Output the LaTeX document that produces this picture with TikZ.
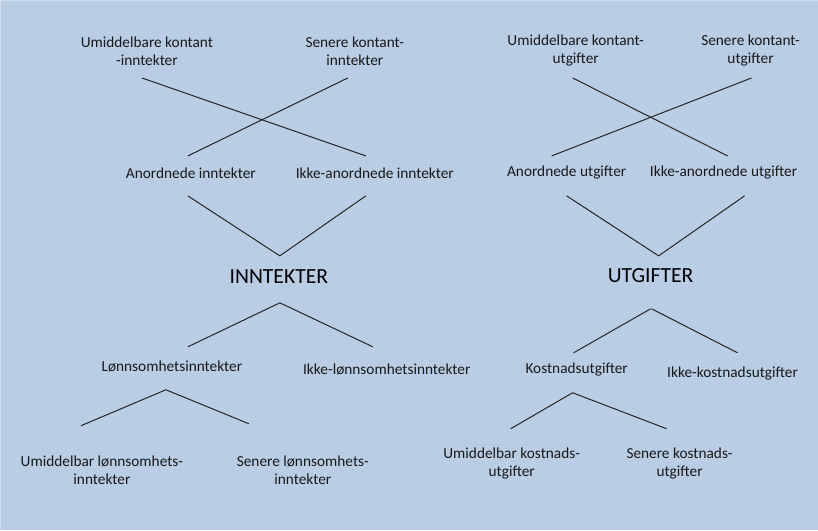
\documentclass[tikz,border=0pt]{standalone}
\usepackage{fontspec}
\setmainfont{Carlito}
\definecolor{bg}{HTML}{B9CDE5}
\definecolor{edge}{HTML}{D3DEEC}
\begin{document}
\begin{tikzpicture}[x=0.75pt,y=-0.75pt,
  lbl/.style={inner sep=0pt,align=center,font=\fontsize{11.5}{13.5}\selectfont,text=black!90},
  big/.style={inner sep=0pt,font=\fontsize{16.2}{18}\selectfont,text=black},
  ln/.style={line width=0.75pt,black!85}]
\fill[bg] (0,0) rectangle (818,530);
\draw[edge,line width=0.75pt] (0.5,530) -- (0.5,0.5) -- (818,0.5);
\useasboundingbox (0,0) rectangle (818,530);

% ---- INNTEKTER ----
\node[lbl] (uki) at (147,51) {Umiddelbare kontant\\-inntekter};
\node[lbl] (ski) at (355,51) {Senere kontant-\\inntekter};
\node[lbl] (ai) at (191,173) {Anordnede inntekter};
\node[lbl] (iai) at (375,173) {Ikke-anordnede inntekter};
\node[big] (inn) at (279,277) {INNTEKTER};
\node[lbl] (li) at (172,367) {Lønnsomhetsinntekter};
\node[lbl] (ili) at (387,370) {Ikke-lønnsomhetsinntekter};
\node[lbl] (uli) at (102,471) {Umiddelbar lønnsomhets-\\inntekter};
\node[lbl] (sli) at (303,471) {Senere lønnsomhets-\\inntekter};

\coordinate (a1) at (142,78); \coordinate (a2) at (366,156);
\coordinate (b1) at (348,78); \coordinate (b2) at (188,156);
\draw[ln] (a1) -- (a2);
\draw[ln] (b1) -- (b2);
\coordinate (v1) at (188,196); \coordinate (v2) at (280,256); \coordinate (v3) at (366,196);
\draw[ln] (v1) -- (v2) -- (v3);
\coordinate (w1) at (188,347); \coordinate (w2) at (280,303); \coordinate (w3) at (373,347);
\draw[ln] (w1) -- (w2) -- (w3);
\coordinate (x1) at (81,426); \coordinate (x2) at (166,390); \coordinate (x3) at (249,424);
\draw[ln] (x1) -- (x2) -- (x3);

% ---- UTGIFTER ----
\node[lbl] (uku) at (576,51) {Umiddelbare kontant-\\utgifter};
\node[lbl] (sku) at (751,51) {Senere kontant-\\utgifter};
\node[lbl] (au) at (567,173) {Anordnede utgifter};
\node[lbl] (iau) at (724,173) {Ikke-anordnede utgifter};
\node[big] (utg) at (651,276) {UTGIFTER};
\node[lbl] (ku) at (577,370) {Kostnadsutgifter};
\node[lbl] (iku) at (733,374) {Ikke-kostnadsutgifter};
\node[lbl] (umk) at (512,464) {Umiddelbar kostnads-\\utgifter};
\node[lbl] (smk) at (680,464) {Senere kostnads-\\utgifter};

\coordinate (c1) at (573,78); \coordinate (c2) at (728,156);
\coordinate (d1) at (752,78); \coordinate (d2) at (552,156);
\draw[ln] (c1) -- (c2);
\draw[ln] (d1) -- (d2);
\coordinate (y1) at (567,196); \coordinate (y2) at (659,256); \coordinate (y3) at (745,196);
\draw[ln] (y1) -- (y2) -- (y3);
\coordinate (z1) at (574,353); \coordinate (z2) at (651,309);
\coordinate (z3) at (652,309); \coordinate (z4) at (738,353);
\draw[ln] (z1) -- (z2);
\draw[ln] (z3) -- (z4);
\coordinate (q1) at (511,429); \coordinate (q2) at (573,393); \coordinate (q3) at (667,429);
\draw[ln] (q1) -- (q2) -- (q3);
\end{tikzpicture}
\end{document}
